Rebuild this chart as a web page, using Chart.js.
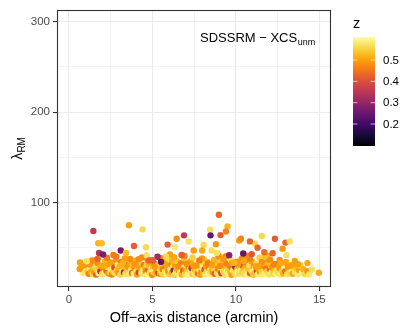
<!DOCTYPE html>
<html><head><meta charset="utf-8">
<script src="https://cdn.jsdelivr.net/npm/chart.js@4"></script>
<style>html,body{margin:0;padding:0;background:#fff}#wrap{width:415px;height:332px}</style>
</head><body><div id="wrap"><canvas id="c" width="415" height="332"></canvas></div>
<script>
// ---- tick labels ----
const xTicks = [0, 5, 10, 15];
const xMinor = [2.5, 7.5, 12.5];
const yTicks = [100, 200, 300];
const yMinor = [50, 150, 250];
const legendTicks = [0.2, 0.3, 0.4, 0.5];

// ---- data: off-axis distance (arcmin), richness lambda_RM, redshift z ----
const offAxis = [
  0.72,0.85,0.95,1.10,1.18,1.25,1.32,1.40,1.44,1.48,
  1.52,1.58,1.63,1.67,1.71,1.78,1.84,1.88,1.93,1.99,2.05,2.11,2.17,2.24,2.30,2.36,2.42,2.48,
  2.52,2.57,2.61,2.66,2.72,2.77,2.81,2.86,2.92,2.97,3.02,3.07,3.13,3.18,3.23,3.29,3.34,3.38,3.44,3.48,
  3.52,3.57,3.62,3.68,3.73,3.78,3.83,3.88,3.93,3.98,4.03,4.08,4.13,4.19,4.24,4.29,4.34,4.39,4.44,4.49,
  4.52,4.56,4.61,4.66,4.70,4.75,4.80,4.84,4.89,4.94,4.98,5.03,5.08,5.12,5.17,5.22,5.26,5.31,5.36,5.40,5.45,5.49,
  5.53,5.57,5.62,5.67,5.71,5.76,5.81,5.85,5.90,5.95,5.99,6.04,6.08,6.13,6.18,6.22,6.27,6.32,6.36,6.41,6.45,6.49,
  6.52,6.57,6.61,6.66,6.71,6.75,6.80,6.85,6.89,6.94,6.98,7.03,7.08,7.12,7.17,7.22,7.26,7.31,7.35,7.40,7.45,7.49,
  7.52,7.56,7.60,7.65,7.69,7.73,7.78,7.82,7.86,7.91,7.95,7.99,8.04,8.08,8.12,8.17,8.21,8.25,8.30,8.34,8.38,8.43,8.47,8.50,
  8.53,8.57,8.61,8.66,8.70,8.74,8.79,8.83,8.87,8.92,8.96,9.00,9.05,9.09,9.13,9.18,9.22,9.26,9.31,9.35,9.39,9.44,9.48,9.50,
  9.53,9.57,9.61,9.66,9.70,9.74,9.79,9.83,9.87,9.92,9.96,10.00,10.05,10.09,10.13,10.18,10.22,10.26,10.31,10.35,10.39,10.44,10.48,10.50,
  10.53,10.57,10.62,10.67,10.71,10.76,10.81,10.85,10.90,10.95,10.99,11.04,11.08,11.13,11.18,11.22,11.27,11.32,11.36,11.41,11.45,11.49,
  11.53,11.58,11.63,11.68,11.73,11.78,11.83,11.88,11.93,11.98,12.03,12.08,12.13,12.18,12.23,12.28,12.33,12.38,12.43,12.48,
  12.54,12.60,12.66,12.72,12.78,12.84,12.90,12.96,13.02,13.08,13.14,13.20,13.26,13.33,13.40,13.47,
  13.55,13.63,13.71,13.79,13.87,13.95,14.05,14.15,14.28,14.40,
  1.22,1.65,2.08,2.45,2.83,3.21,3.66,4.02,4.37,4.78,
  5.14,5.47,5.83,6.19,6.55,6.92,7.28,7.63,7.97,8.32,
  8.68,9.04,9.41,9.77,10.12,10.48,10.83,11.19,11.55,11.90,
  12.26,12.62,12.98,13.35,1.38,2.27,3.05,3.92,4.70,5.62,
  6.30,7.05,7.81,8.59,9.25,9.90,10.66,11.37,12.05,12.70,
  13.12,13.72,2.66,5.30,7.40,8.95,10.95,11.75,6.05,9.60,
  1.46,3.59,4.41,1.75,1.96,3.10,3.89,4.61,1.80,2.04,
  3.41,4.65,1.72,0.66,1.06,0.64,4.17,4.81,8.98,8.46,
  9.50,8.48,9.08,9.40,6.89,6.45,7.17,5.91,6.35,8.07,
  8.80,10.20,10.30,7.47,7.98,8.54,8.86,6.75,5.81,5.51,
  5.01,11.56,12.34,12.97,13.23,11.14,10.84,12.80,11.30,11.70,
  12.20,13.03,13.53,14.29,14.55,14.97,10.44
];
const lambdaRM = [
  28.5,22.0,30.5,24.3,21.2,27.0,23.5,31.8,20.6,25.9,
  22.8,29.4,20.3,25.6,33.1,21.7,27.9,23.9,30.2,20.9,26.4,22.1,35.2,24.7,28.8,21.4,31.5,23.2,
  26.1,20.5,32.7,23.6,28.3,21.8,36.4,24.9,30.8,22.4,27.2,20.2,34.0,25.3,29.7,22.9,38.2,21.1,26.8,31.4,
  23.4,28.9,20.7,33.6,25.8,22.2,30.3,21.5,27.5,35.8,24.1,20.4,29.2,23.0,32.4,26.2,21.9,28.0,24.6,30.9,
  21.3,27.7,24.0,31.2,20.8,25.5,29.9,22.6,34.7,26.5,20.1,28.6,23.3,32.0,21.6,26.9,24.4,30.1,22.0,27.4,20.9,25.1,
  28.2,22.5,25.9,20.3,33.3,24.2,29.5,21.2,27.1,23.7,36.9,20.6,26.3,31.6,22.8,28.4,24.8,20.0,30.6,23.1,26.7,35.1,
  21.7,25.2,29.0,22.3,32.8,20.5,27.6,24.5,38.5,21.0,26.0,30.4,23.5,20.2,28.1,25.7,33.9,22.7,27.3,20.8,31.0,24.0,
  26.6,20.4,30.0,23.8,35.5,21.9,28.7,25.0,20.1,32.2,24.3,27.8,22.1,37.3,26.1,20.7,29.6,23.4,34.4,21.4,27.0,24.9,31.3,22.6,
  20.5,27.4,23.1,31.9,25.6,21.3,29.2,35.9,22.4,26.7,20.0,33.1,24.6,28.5,21.8,39.0,25.2,22.9,30.7,20.3,27.9,24.0,32.6,21.1,
  25.9,21.6,30.2,23.7,36.1,20.2,27.2,24.8,32.5,22.0,28.9,20.9,34.6,26.4,23.2,30.9,21.5,27.7,25.4,37.8,22.5,29.4,20.6,26.0,
  22.2,28.0,24.4,33.7,20.4,26.9,30.5,21.7,25.3,35.0,23.0,20.1,29.1,27.5,22.8,31.8,24.7,20.8,26.2,38.9,23.6,28.6,
  25.1,20.6,29.8,23.3,33.0,21.4,27.1,24.2,36.6,20.3,26.5,30.3,22.7,28.2,20.9,25.0,32.1,22.1,27.8,24.5,
  22.4,27.3,20.5,31.1,24.8,21.6,29.0,23.9,34.2,20.8,26.4,22.9,30.0,25.5,21.2,28.1,
  23.0,27.6,20.7,25.2,30.4,22.1,26.3,21.0,24.2,20.4,
  31.5,36.8,29.7,34.1,40.2,32.8,37.6,30.4,39.3,33.5,
  28.9,38.7,31.2,35.6,29.4,41.0,34.9,30.1,38.1,32.6,
  36.2,29.8,40.6,33.0,31.7,35.1,38.4,29.2,34.3,40.9,
  31.1,36.5,33.8,30.6,35.9,38.9,30.0,32.1,37.0,34.6,
  39.6,32.3,36.0,30.9,37.4,33.6,41.3,29.5,36.9,33.2,
  29.3,31.8,42.0,40.0,39.2,41.5,43.0,40.5,42.6,41.8,
  68.5,75.0,70.3,55.0,55.0,47.0,52.0,50.5,44.3,42.5,
  44.3,41.8,37.7,33.7,35.0,26.4,37.4,36.0,86.5,70.0,
  73.6,63.7,64.0,68.0,63.7,60.0,56.8,53.5,50.5,53.0,
  54.0,58.0,60.0,47.0,47.0,47.0,44.3,42.0,40.3,34.4,
  36.3,63.0,60.0,55.7,57.0,54.6,57.0,49.0,50.0,45.0,
  44.0,41.8,35.5,33.0,26.0,22.3,43.6
];
const redshift = [
  0.52,0.58,0.49,0.55,0.47,0.59,0.51,0.46,0.56,0.53,
  0.50,0.57,0.42,0.55,0.48,0.59,0.53,0.35,0.51,0.56,0.47,0.58,0.52,0.44,0.56,0.50,0.49,0.57,
  0.58,0.46,0.52,0.55,0.40,0.57,0.49,0.53,0.59,0.48,0.51,0.56,0.45,0.58,0.54,0.33,0.50,0.57,0.52,0.47,
  0.55,0.49,0.58,0.51,0.57,0.43,0.53,0.59,0.47,0.52,0.56,0.50,0.58,0.38,0.54,0.48,0.57,0.52,0.59,0.45,
  0.57,0.52,0.48,0.55,0.59,0.41,0.53,0.56,0.50,0.58,0.47,0.54,0.59,0.44,0.52,0.57,0.49,0.55,0.36,0.58,0.51,0.56,
  0.53,0.58,0.46,0.55,0.50,0.57,0.43,0.59,0.52,0.48,0.56,0.54,0.59,0.47,0.51,0.57,0.30,0.56,0.49,0.58,0.52,0.55,
  0.57,0.50,0.55,0.59,0.46,0.52,0.58,0.41,0.53,0.56,0.49,0.57,0.54,0.59,0.45,0.56,0.51,0.58,0.35,0.55,0.50,0.57,
  0.51,0.57,0.48,0.55,0.59,0.44,0.53,0.58,0.50,0.56,0.47,0.59,0.52,0.55,0.40,0.58,0.50,0.56,0.53,0.59,0.46,0.57,0.52,0.55,
  0.58,0.53,0.49,0.57,0.55,0.42,0.59,0.51,0.56,0.47,0.58,0.54,0.50,0.57,0.38,0.53,0.59,0.55,0.48,0.56,0.52,0.59,0.46,0.57,
  0.55,0.59,0.47,0.53,0.57,0.50,0.44,0.58,0.52,0.56,0.31,0.57,0.49,0.54,0.59,0.45,0.56,0.52,0.58,0.48,0.55,0.41,0.57,0.53,
  0.57,0.51,0.56,0.46,0.59,0.53,0.57,0.42,0.55,0.50,0.58,0.54,0.47,0.59,0.52,0.56,0.37,0.58,0.51,0.55,0.49,0.57,
  0.54,0.58,0.48,0.56,0.52,0.59,0.45,0.55,0.50,0.57,0.43,0.53,0.58,0.49,0.56,0.52,0.46,0.59,0.54,0.57,
  0.56,0.50,0.58,0.47,0.55,0.52,0.59,0.44,0.53,0.57,0.49,0.56,0.54,0.58,0.51,0.55,
  0.57,0.53,0.58,0.50,0.55,0.59,0.52,0.56,0.49,0.58,
  0.49,0.47,0.51,0.50,0.46,0.52,0.48,0.50,0.47,0.51,
  0.49,0.46,0.50,0.52,0.48,0.47,0.51,0.49,0.50,0.46,
  0.52,0.48,0.47,0.50,0.49,0.51,0.46,0.50,0.48,0.52,
  0.47,0.49,0.51,0.50,0.48,0.46,0.52,0.49,0.47,0.50,
  0.51,0.48,0.46,0.50,0.49,0.52,0.47,0.50,0.48,0.51,
  0.49,0.50,0.46,0.32,0.55,0.48,0.41,0.53,0.50,0.29,
  0.36,0.50,0.56,0.52,0.53,0.26,0.42,0.56,0.34,0.27,
  0.53,0.57,0.43,0.50,0.57,0.49,0.48,0.42,0.43,0.57,
  0.52,0.25,0.42,0.47,0.36,0.48,0.57,0.42,0.58,0.56,
  0.49,0.50,0.47,0.50,0.51,0.57,0.57,0.42,0.56,0.24,
  0.42,0.56,0.42,0.43,0.57,0.56,0.43,0.49,0.43,0.44,
  0.43,0.57,0.50,0.51,0.57,0.51,0.25
];
const zMin = 0.097, zMax = 0.608;

// ---- inferno colour map ----
const INFERNO = ['#000004','#160b39','#420a68','#6a176e','#932667','#bc3754','#dd513a','#f37819','#fca50a','#f6d746','#fcffa4'];
function hexRgb(h){return [parseInt(h.slice(1,3),16),parseInt(h.slice(3,5),16),parseInt(h.slice(5,7),16)];}
function inferno(t){
  t = Math.max(0, Math.min(1, t));
  const s = t * 10, i = Math.min(9, Math.floor(s)), f = s - i;
  const a = hexRgb(INFERNO[i]), b = hexRgb(INFERNO[i+1]);
  return 'rgb(' + a.map((v,k)=>Math.round(v + (b[k]-v)*f)).join(',') + ')';
}
const zColor = z => inferno((z - zMin) / (zMax - zMin));

const points = offAxis.map((x,i)=>({x:x, y:lambdaRM[i]}));
const colors = redshift.map(zColor);

const FONT = '"Liberation Sans", Arial, Helvetica, sans-serif';

const decor = {
  id: 'decor',
  afterDatasetsDraw(chart){
    const ctx = chart.ctx, a = chart.chartArea;
    ctx.save();
    // panel border
    ctx.strokeStyle = '#333333'; ctx.lineWidth = 1.1;
    ctx.strokeRect(Math.round(a.left)+0.5, Math.round(a.top)+0.5, Math.round(a.right-a.left)-1, Math.round(a.bottom-a.top)-1);
    // annotation
    ctx.fillStyle = '#000'; ctx.textBaseline = 'alphabetic'; ctx.textAlign = 'left';
    ctx.font = '13px ' + FONT;
    const main = 'SDSSRM \u2212 XCS';
    ctx.fillText(main, 200, 42);
    const w = ctx.measureText(main).width;
    ctx.font = '9px ' + FONT;
    ctx.fillText('unm', 200 + w + 0.5, 45);
    // x title
    ctx.font = '14.5px ' + FONT; ctx.textAlign = 'center';
    ctx.fillText('Off\u2212axis distance (arcmin)', (a.left + a.right)/2, 322);
    // y title
    ctx.save();
    ctx.translate(22, (a.top + a.bottom)/2);
    ctx.rotate(-Math.PI/2);
    ctx.textAlign = 'left';
    ctx.font = '14.5px ' + FONT;
    const lw = ctx.measureText('\u03bb').width;
    ctx.font = '10px ' + FONT;
    const sw = ctx.measureText('RM').width;
    const x0 = -(lw + sw)/2;
    ctx.font = '14.5px ' + FONT;
    ctx.fillText('\u03bb', x0, 0);
    ctx.font = '10px ' + FONT;
    ctx.fillText('RM', x0 + lw, 3);
    ctx.restore();
    // colour bar legend
    const bx = 353, bw = 22, bt = 37, bb = 146;
    const g = ctx.createLinearGradient(0, bb, 0, bt);
    INFERNO.forEach((c,i)=>g.addColorStop(i/10, c));
    ctx.fillStyle = g;
    ctx.fillRect(bx, bt, bw, bb - bt);
    ctx.font = '14.5px ' + FONT; ctx.fillStyle = '#000'; ctx.textAlign = 'left';
    ctx.fillText('z', bx, 28);
    ctx.font = '11.5px ' + FONT; ctx.textBaseline = 'middle';
    legendTicks.forEach(v=>{
      const y = bb - (v - zMin)/(zMax - zMin)*(bb - bt);
      ctx.strokeStyle = 'rgba(255,255,255,0.85)'; ctx.lineWidth = 0.8;
      ctx.beginPath();
      ctx.moveTo(bx, y); ctx.lineTo(bx + 4.4, y);
      ctx.moveTo(bx + bw - 4.4, y); ctx.lineTo(bx + bw, y);
      ctx.stroke();
      ctx.fillStyle = '#000';
      ctx.fillText(v.toFixed(1), 383, y + 0.5);
    });
    ctx.restore();
  }
};

new Chart(document.getElementById('c'), {
  type: 'scatter',
  data: { datasets: [{
    data: points,
    pointRadius: 3.2, pointHoverRadius: 3.2, pointBorderWidth: 0,
    pointBackgroundColor: colors, pointBorderColor: colors
  }]},
  options: {
    responsive: false, animation: false, devicePixelRatio: 1,
    layout: { padding: { top: 8, right: 84, left: 0, bottom: 0 } },
    plugins: { legend: { display: false }, tooltip: { enabled: false } },
    scales: {
      x: {
        type: 'linear', min: -0.72, max: 15.7,
        afterBuildTicks: s => { s.ticks = xMinor.concat(xTicks).sort((p,q)=>p-q).map(v=>({value:v})); },
        afterFit: s => { s.height = 45; },
        border: { display: false },
        grid: {
          color: '#EBEBEB',
          lineWidth: c => (c.tick && xTicks.includes(c.tick.value)) ? 1.1 : 0.55,
          tickColor: c => (c.tick && xTicks.includes(c.tick.value)) ? '#333333' : 'rgba(0,0,0,0)',
          tickLength: 4, drawTicks: true
        },
        ticks: {
          autoSkip: false, maxRotation: 0, padding: 2,
          color: '#4D4D4D', font: { family: FONT, size: 11.5 },
          callback: v => xTicks.includes(v) ? String(v) : ''
        }
      },
      y: {
        type: 'linear', min: 6.6, max: 313,
        afterBuildTicks: s => { s.ticks = yMinor.concat(yTicks).sort((p,q)=>p-q).map(v=>({value:v})); },
        afterFit: s => { s.width = 57; },
        border: { display: false },
        grid: {
          color: '#EBEBEB',
          lineWidth: c => (c.tick && yTicks.includes(c.tick.value)) ? 1.1 : 0.55,
          tickColor: c => (c.tick && yTicks.includes(c.tick.value)) ? '#333333' : 'rgba(0,0,0,0)',
          tickLength: 4, drawTicks: true
        },
        ticks: {
          autoSkip: false, padding: 3,
          color: '#4D4D4D', font: { family: FONT, size: 11.5 },
          callback: v => yTicks.includes(v) ? String(v) : ''
        }
      }
    }
  },
  plugins: [decor]
});
</script>
</body></html>
